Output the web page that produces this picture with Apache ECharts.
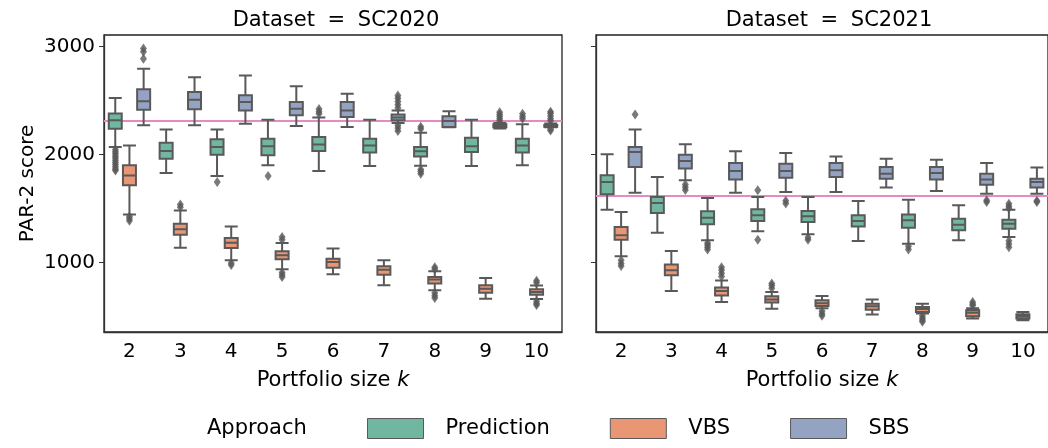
<!DOCTYPE html>
<html>
<head>
<meta charset="utf-8">
<script src="https://cdn.jsdelivr.net/npm/echarts@6/dist/echarts.min.js"></script>
<style>
  html, body { margin: 0; padding: 0; background: #fff; }
  #main { width: 1048px; height: 448px; }
</style>
</head>
<body>
<div id="main"></div>
<script type="text/javascript">
	// categories and ticks
	var cats = ['2', '3', '4', '5', '6', '7', '8', '9', '10'];
	var yTicks = [1000, 2000, 3000];
	var approaches = ['Prediction', 'VBS', 'SBS'];
	var refLine = [2308, 1620]; // pink SBS line per dataset

	// [min, Q1, median, Q3, max] per k, Dataset = SC2020
	var pred2020 = [[2068,2238,2315,2377,2522],[1827,1960,2031,2108,2231],[1799,1997,2068,2139,2231],
		[1898,1991,2074,2145,2320],[1846,2031,2090,2160,2340],[1892,2016,2083,2145,2321],
		[1895,1981,2028,2068,2200],[1892,2022,2074,2154,2321],[1898,2016,2083,2145,2278]];
	var vbs2020 = [[1444,1713,1803,1898,2083],[1136,1256,1306,1358,1481],[1019,1133,1182,1225,1333],
		[935,1028,1065,1102,1180],[889,951,1003,1034,1127],[787,886,932,963,1019],
		[741,803,840,864,917],[664,719,756,787,855],[660,701,725,750,785]];
	var sbs2020 = [[2269,2414,2491,2602,2793],[2269,2417,2506,2577,2713],[2284,2407,2485,2546,2731],
		[2262,2361,2423,2485,2630],[2253,2346,2407,2485,2562],[2290,2315,2340,2370,2405],
		[2250,2253,2308,2352,2398],[2240,2250,2262,2278,2290],[2250,2255,2265,2272,2285]];
	var predOut2020 = [['2',2045],['2',2025],['2',2005],['2',1985],['2',1965],['2',1945],['2',1925],['2',1905],['2',1885],['2',1865],['2',1850],
		['4',1744],['5',1800],['6',2420],['6',2395],['6',2375],
		['8',2255],['8',2235],['8',1860],['8',1840],['8',1820],
		['10',2375],['10',2350],['10',2330]];
	var vbsOut2020 = [['2',1425],['2',1405],['2',1385],['3',1510],['3',1535],['4',995],['4',975],
		['5',1210],['5',1235],['5',905],['5',885],['5',865],
		['8',955],['8',935],['8',715],['8',690],['8',670],
		['10',830],['10',810],['10',640],['10',620],['10',605]];
	var sbsOut2020 = [['2',2886],['2',2950],['2',2979],
		['7',2430],['7',2460],['7',2490],['7',2520],['7',2545],['7',2270],['7',2245],['7',2215],
		['9',2310],['9',2330],['9',2350],['9',2370],['9',2390],
		['10',2310],['10',2330],['10',2355],['10',2380],['10',2395],['10',2235],['10',2220]];

	// Dataset = SC2021
	var pred2021 = [[1488,1630,1744,1806,2000],[1275,1457,1549,1605,1790],[1204,1352,1414,1472,1596],
		[1287,1383,1435,1491,1605],[1259,1373,1426,1475,1605],[1198,1333,1383,1435,1568],
		[1173,1321,1389,1444,1580],[1204,1296,1349,1404,1528],[1234,1312,1358,1395,1488]];
	var vbs2021 = [[1056,1210,1250,1327,1466],[734,880,926,979,1105],[632,694,734,766,833],
		[571,627,657,685,725],[575,596,622,648,688],[516,562,593,617,657],
		[527,540,568,586,617],[480,500,534,556,575],[463,479,500,519,540]];
	var sbs2021 = [[1645,1883,2022,2068,2229],[1759,1868,1938,1997,2093],[1645,1768,1846,1920,2028],
		[1651,1784,1846,1914,2012],[1651,1790,1852,1920,1981],[1692,1775,1821,1883,1960],
		[1660,1768,1827,1883,1951],[1636,1719,1768,1821,1920],[1636,1692,1744,1775,1877]];
	var predOut2021 = [['4',1180],['4',1160],['4',1140],['4',1120],['5',1667],['5',1210],
		['6',1230],['6',1210],['8',1150],['8',1120],
		['10',1543],['10',1520],['10',1500],['10',1200],['10',1170],['10',1140]];
	var vbsOut2021 = [['2',1020],['2',990],['2',965],['4',870],['4',900],['4',930],['4',955],
		['5',760],['5',785],['5',805],['6',550],['6',525],['6',505],
		['8',505],['8',485],['8',465],['8',450],['9',600],['9',615],['9',633]];
	var sbsOut2021 = [['2',2370],['3',1720],['3',1695],['3',1670],['5',1570],['5',1545],
		['9',1575],['9',1558],['10',1570],['10',1558]];

	var colors = ['#71b6a1', '#e99675', '#95a3c3'];
	var edge = '#595959';
	var font = 'DejaVu Sans';
	var dodge = [-14, 0, 14];

	function boxSeries(name, data, idx, grid, ref) {
		var s = {
			name: name,
			type: 'boxplot',
			xAxisIndex: grid,
			yAxisIndex: grid,
			data: data,
			boxWidth: [13, 13],
			itemStyle: { color: colors[idx], borderColor: edge, borderWidth: 2 },
			emphasis: { disabled: true },
			z: 3
		};
		if (ref) {
			s.markLine = {
				silent: true,
				symbol: 'none',
				z: 1,
				label: { show: false },
				lineStyle: { color: '#e78ac3', width: 2, type: 'solid', opacity: 1 },
				data: [{ yAxis: ref }]
			};
		}
		return s;
	}

	function outSeries(name, data, idx, grid) {
		return {
			name: name + ' outliers',
			type: 'scatter',
			xAxisIndex: grid,
			yAxisIndex: grid,
			data: data,
			symbol: 'diamond',
			symbolSize: [7, 10],
			symbolOffset: [dodge[idx], 0],
			itemStyle: { color: edge },
			z: 4
		};
	}

	function xAxisOf(grid) {
		return {
			type: 'category',
			gridIndex: grid,
			data: cats,
			name: 'Portfolio size {i|k}',
			nameLocation: 'middle',
			nameGap: 38,
			nameTextStyle: { fontFamily: font, fontSize: 21, color: '#000',
				rich: { i: { fontFamily: font, fontSize: 21, fontStyle: 'italic', color: '#000' } } },
			axisLine: { lineStyle: { color: '#333', width: 1.3 } },
			axisTick: { alignWithLabel: true, length: 5, lineStyle: { color: '#333' } },
			axisLabel: { fontFamily: font, fontSize: 20, color: '#000', margin: 10 },
			splitLine: { show: false }
		};
	}

	function yAxisOf(grid) {
		return {
			type: 'value',
			gridIndex: grid,
			min: 355,
			max: 3105,
			name: grid === 0 ? 'PAR-2 score' : '',
			nameLocation: 'middle',
			nameGap: 66,
			nameTextStyle: { fontFamily: font, fontSize: 20, color: '#000' },
			axisLine: { show: true, lineStyle: { color: '#333', width: 1.3 } },
			axisTick: { show: true, length: 5, customValues: yTicks, lineStyle: { color: '#333' } },
			axisLabel: { show: grid === 0, customValues: yTicks, fontFamily: font, fontSize: 20,
				color: '#000', margin: 9, formatter: function (v) { return String(v); } },
			splitLine: { show: false }
		};
	}

	var legendData = approaches.map(function (a, i) {
		return { name: a, itemStyle: { color: colors[i], borderColor: edge, borderWidth: 1 } };
	});

	var titleStyle = { fontFamily: font, fontSize: 21, fontWeight: 'normal', color: '#000',
		rich: { eq: { fontFamily: font, fontSize: 21, color: '#000', padding: [0, 6, 0, 6] } } };

	var myChart = echarts.init(document.getElementById('main'), null, { renderer: 'canvas' });
	myChart.setOption({
		animation: false,
		backgroundColor: '#fff',
		title: [
			{ text: 'Dataset {eq|=} SC2020', left: 331, top: 5, textAlign: 'center', textStyle: titleStyle },
			{ text: 'Dataset {eq|=} SC2021', left: 824, top: 5, textAlign: 'center', textStyle: titleStyle },
			{ text: 'Approach', left: 202, top: 413,
				textStyle: { fontFamily: font, fontSize: 21, fontWeight: 'normal', color: '#000' } }
		],
		legend: {
			data: legendData,
			left: 362,
			top: 413,
			icon: 'rect',
			itemWidth: 56,
			itemHeight: 20,
			itemGap: 60,
			textStyle: { fontFamily: font, fontSize: 21, color: '#000', padding: [0, 0, 0, 17] },
			selectedMode: false
		},
		grid: [
			{ left: 104, right: 486, top: 35, bottom: 116, show: true, borderColor: '#222', borderWidth: 1.3 },
			{ left: 596, right: -6, top: 35, bottom: 116, show: true, borderColor: '#222', borderWidth: 1.3 }
		],
		xAxis: [xAxisOf(0), xAxisOf(1)],
		yAxis: [yAxisOf(0), yAxisOf(1)],
		series: [
			boxSeries('Prediction', pred2020, 0, 0, refLine[0]),
			boxSeries('VBS', vbs2020, 1, 0),
			boxSeries('SBS', sbs2020, 2, 0),
			outSeries('Prediction', predOut2020, 0, 0),
			outSeries('VBS', vbsOut2020, 1, 0),
			outSeries('SBS', sbsOut2020, 2, 0),
			boxSeries('Prediction', pred2021, 0, 1, refLine[1]),
			boxSeries('VBS', vbs2021, 1, 1),
			boxSeries('SBS', sbs2021, 2, 1),
			outSeries('Prediction', predOut2021, 0, 1),
			outSeries('VBS', vbsOut2021, 1, 1),
			outSeries('SBS', sbsOut2021, 2, 1)
		]
	});
</script>
</body>
</html>
